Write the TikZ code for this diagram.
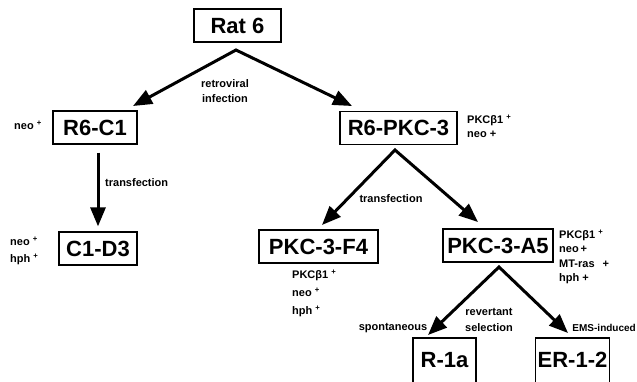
\documentclass[tikz,border=0pt]{standalone}
\usepackage{fontspec}
\setmainfont{Liberation Sans}
\usetikzlibrary{arrows.meta}

\begin{document}
\begin{tikzpicture}[x=1pt,y=-1pt,
    cell/.style={draw,line width=1.3pt,font=\bfseries\fontsize{22}{22}\selectfont,inner xsep=2pt,inner ysep=0pt,minimum height=33pt},
    openbox/.style={draw,line width=1.3pt,font=\bfseries\fontsize{22}{22}\selectfont,inner xsep=2pt,inner ysep=4pt,text height=25pt,text depth=20pt,anchor=base},
    tag/.style={font=\bfseries\fontsize{11}{14.5}\selectfont,inner sep=0pt},
    lineage/.style={line width=3pt,-{Triangle[length=19pt,width=15pt]}},
    split/.style={line width=3pt,line join=miter,arrows={Triangle[length=19pt,width=15pt]-Triangle[length=19pt,width=15pt]}}]
  \clip (0,0) rectangle (637,381);
  \node[cell,minimum width=87pt] (rat) at (237.5,25.5) {Rat 6};
  \node[cell,minimum width=84pt] (r6c1) at (95,127.5) {R6-C1};
  \node[cell,minimum width=117pt] (r6pkc) at (398.5,128) {R6-PKC-3};
  \node[cell,minimum width=78pt] (c1d3) at (98,248.5) {C1-D3};
  \node[cell,minimum width=119pt] (f4) at (318.5,246.5) {PKC-3-F4};
  \node[cell,minimum width=110pt] (a5) at (498,245.5) {PKC-3-A5};
  \node[openbox,minimum width=63pt] (r1a) at (444.5,367) {R-1a};
  \node[openbox,minimum width=71pt] (er12) at (572.5,367) {ER-1-2};
  % forks
  \coordinate (fork1) at (236,50);
  \coordinate (c1tip) at (133,106);
  \coordinate (pkctip) at (352,106);
  \coordinate (fork2) at (395,150);
  \coordinate (f4tip) at (322,225);
  \coordinate (a5tip) at (478,222);
  \coordinate (fork3) at (499,267);
  \coordinate (r1tip) at (428,335);
  \coordinate (ertip) at (568,333);
  \draw[split] (c1tip) -- (fork1) -- (pkctip);
  \draw[split] (f4tip) -- (fork2) -- (a5tip);
  \draw[split] (r1tip) -- (fork3) -- (ertip);
  \draw[lineage,shorten <=8pt,shorten >=5pt] (c1d3 |- r6c1.south) -- (c1d3.north);
  % labels
  \node[tag,align=center] (retro) at (225,91) {retroviral\\infection};
  \node[tag] (c1tag) at (28,125) {neo \textsuperscript{+}};
  \node[tag,anchor=west] (tf1) at (105,183) {transfection};
  \node[tag,anchor=west,align=left,font=\bfseries\fontsize{11}{16.5}\selectfont] (d3tag) at (10,251) {neo \textsuperscript{+}\\hph \textsuperscript{+}};
  \node[tag,anchor=west,align=left,font=\bfseries\fontsize{11}{14}\selectfont] (pkctag) at (467,126) {PKCβ1 \textsuperscript{+}\\neo +};
  \node[tag] (tf2) at (391,199) {transfection};
  \node[tag,anchor=west,align=left,font=\bfseries\fontsize{11}{18}\selectfont] (f4tag) at (292,293) {PKCβ1 \textsuperscript{+}\\neo \textsuperscript{+}\\hph \textsuperscript{+}};
  \node[tag,anchor=west,align=left] (a5tag) at (559,257) {PKCβ1 \textsuperscript{+}\\neo\,+\\MT-ras\hspace{8pt}+\\hph +};
  \node[tag] (spont) at (393,328) {spontaneous};
  \node[tag,align=center,font=\bfseries\fontsize{11}{16}\selectfont] (revert) at (489,320) {revertant\\selection};
  \node[tag,anchor=east,font=\bfseries\fontsize{10}{12}\selectfont] (ems) at (636,328) {EMS-induced};
\end{tikzpicture}
\end{document}
